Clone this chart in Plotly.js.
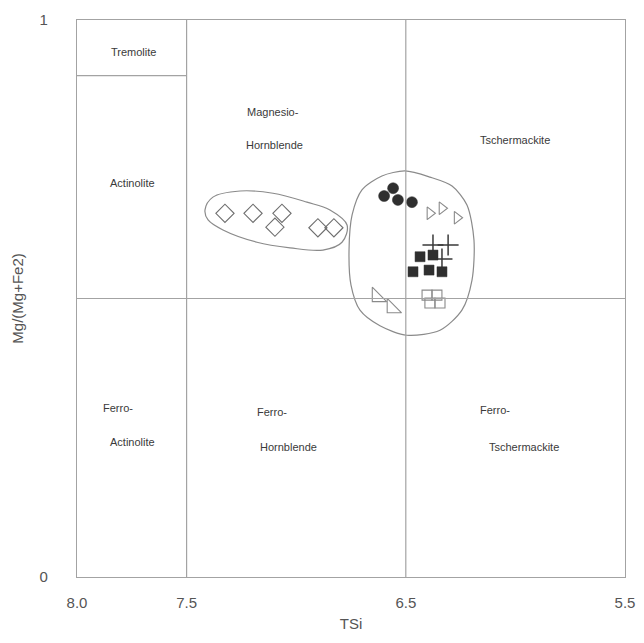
<!DOCTYPE html>
<html><head><meta charset="utf-8">
<script src="https://cdn.plot.ly/plotly-3.0.1.min.js"></script>
<style>html,body{margin:0;padding:0;background:#fff}#chart{width:644px;height:643px}</style>
</head><body><div id="chart"></div>
<script>
// Sample data: TSi (x) and Mg/(Mg+Fe2) (y)
const diamondX = [7.325, 7.197, 7.065, 7.097, 6.901, 6.828];
const diamondY = [0.653, 0.653, 0.653, 0.628, 0.627, 0.627];
const circleX = [6.558, 6.599, 6.536, 6.472];
const circleY = [0.698, 0.684, 0.677, 0.673];
const triRX = [6.390, 6.335, 6.266];
const triRY = [0.653, 0.662, 0.645];
const crossX = [6.376, 6.307, 6.335];
const crossY = [0.596, 0.596, 0.571];
const sqFX = [6.435, 6.376, 6.467, 6.394, 6.335];
const sqFY = [0.575, 0.578, 0.548, 0.551, 0.548];
const triSWX = [6.631, 6.563];
const triSWY = [0.503, 0.483];
const sqOX = [6.403, 6.358, 6.390, 6.344];
const sqOY = [0.506, 0.506, 0.492, 0.492];

// Enclosing outlines (hand-drawn groupings)
const ellX = [7.416, 7.380, 7.256, 7.106, 6.951, 6.846, 6.768, 6.791, 6.878, 7.028, 7.179, 7.334, 7.402, 7.416];
const ellY = [0.659, 0.682, 0.693, 0.689, 0.673, 0.659, 0.632, 0.601, 0.587, 0.591, 0.601, 0.623, 0.641, 0.659];
const encX = [6.504, 6.390, 6.289, 6.221, 6.189, 6.198, 6.244, 6.344, 6.495, 6.618, 6.709, 6.750, 6.759, 6.745, 6.700, 6.609, 6.504];
const encY = [0.729, 0.718, 0.702, 0.668, 0.605, 0.533, 0.479, 0.443, 0.434, 0.451, 0.479, 0.524, 0.587, 0.650, 0.695, 0.720, 0.729];

// Field boundaries
const siBounds = [7.5, 6.5];
const mgBound = 0.5;
const tremBound = 0.9;

// Field labels
const fieldText = ["Tremolite", "Actinolite", "Magnesio-", "Hornblende", "Tschermackite",
  "Ferro-", "Actinolite", "Ferro-", "Hornblende", "Ferro-", "Tschermackite"];
const fieldX = [7.74, 7.749, 7.106, 7.097, 6.002, 7.813, 7.749, 7.110, 7.033, 6.093, 5.961];
const fieldY = [0.943, 0.707, 0.835, 0.776, 0.785, 0.303, 0.242, 0.296, 0.233, 0.300, 0.233];

const xTicks = [8.0, 7.5, 6.5, 5.5];
const xTickText = ["8.0", "7.5", "6.5", "5.5"];
const yTicks = [0, 1];
const yTickText = ["0", "1"];

const openGray = '#6e6e6e';
const dark = '#2f2f2f';
const lineGray = '#a3a3a3';

function pts(x, y, symbol, size, color, lw) {
  return {x: x, y: y, type: 'scatter', mode: 'markers', hoverinfo: 'skip',
    marker: {symbol: symbol, size: size, color: color, line: {color: color, width: lw}}};
}

const traces = [
  {x: ellX, y: ellY, type: 'scatter', mode: 'lines', line: {color: '#8a8a8a', width: 1.2, shape: 'spline', smoothing: 1}, hoverinfo: 'skip'},
  {x: encX, y: encY, type: 'scatter', mode: 'lines', line: {color: '#8a8a8a', width: 1.2, shape: 'spline', smoothing: 0.8}, hoverinfo: 'skip'},
  pts(diamondX, diamondY, 'diamond-open', 14, openGray, 1.1),
  pts(circleX, circleY, 'circle', 11, dark, 0.5),
  pts(triRX, triRY, 'triangle-right-open', 11, '#8a8a8a', 1.1),
  pts(crossX, crossY, 'cross-thin-open', 15, '#3a3a3a', 1.5),
  pts(sqFX, sqFY, 'square', 10, dark, 0.5),
  pts(triSWX, triSWY, 'triangle-sw-open', 16, '#8a8a8a', 1.1),
  pts(sqOX, sqOY, 'square-open', 10, '#8a8a8a', 1.1)
];

const shapes = [];
siBounds.forEach(v => shapes.push({type: 'line', xref: 'x', yref: 'y', x0: v, x1: v, y0: 0, y1: 1, line: {color: lineGray, width: 1.2}}));
shapes.push({type: 'line', xref: 'x', yref: 'y', x0: 8.0, x1: 5.5, y0: mgBound, y1: mgBound, line: {color: lineGray, width: 1.2}});
shapes.push({type: 'line', xref: 'x', yref: 'y', x0: 8.0, x1: siBounds[0], y0: tremBound, y1: tremBound, line: {color: lineGray, width: 1.2}});

const annotations = fieldText.map((t, i) => ({x: fieldX[i], y: fieldY[i], xref: 'x', yref: 'y', text: t, showarrow: false,
  font: {family: 'Liberation Sans, Arial, sans-serif', size: 11, color: '#3a3a3a'}}));

const layout = {
  width: 644, height: 643,
  margin: {l: 77, r: 19, t: 20, b: 66},
  paper_bgcolor: '#fff', plot_bgcolor: '#fff',
  showlegend: false,
  font: {family: 'Liberation Sans, Arial, sans-serif', color: '#555'},
  xaxis: {range: [8.0, 5.5], tickvals: xTicks, ticktext: xTickText, showgrid: false, zeroline: false,
    showline: true, mirror: true, linecolor: lineGray, linewidth: 1.2, ticks: '', ticklabelstandoff: 12,
    tickfont: {size: 15, color: '#555'}, title: {text: 'TSi', font: {size: 15, color: '#555'}, standoff: 8}},
  yaxis: {range: [0, 1], tickvals: yTicks, ticktext: yTickText, showgrid: false, zeroline: false,
    showline: true, mirror: true, linecolor: lineGray, linewidth: 1.2, ticks: '', ticklabelstandoff: 25,
    tickfont: {size: 15, color: '#555'}, title: {text: 'Mg/(Mg+Fe2)', font: {size: 15, color: '#555'}, standoff: 12}},
  shapes: shapes,
  annotations: annotations
};

Plotly.newPlot('chart', traces, layout, {staticPlot: true, displayModeBar: false});
</script></body></html>
